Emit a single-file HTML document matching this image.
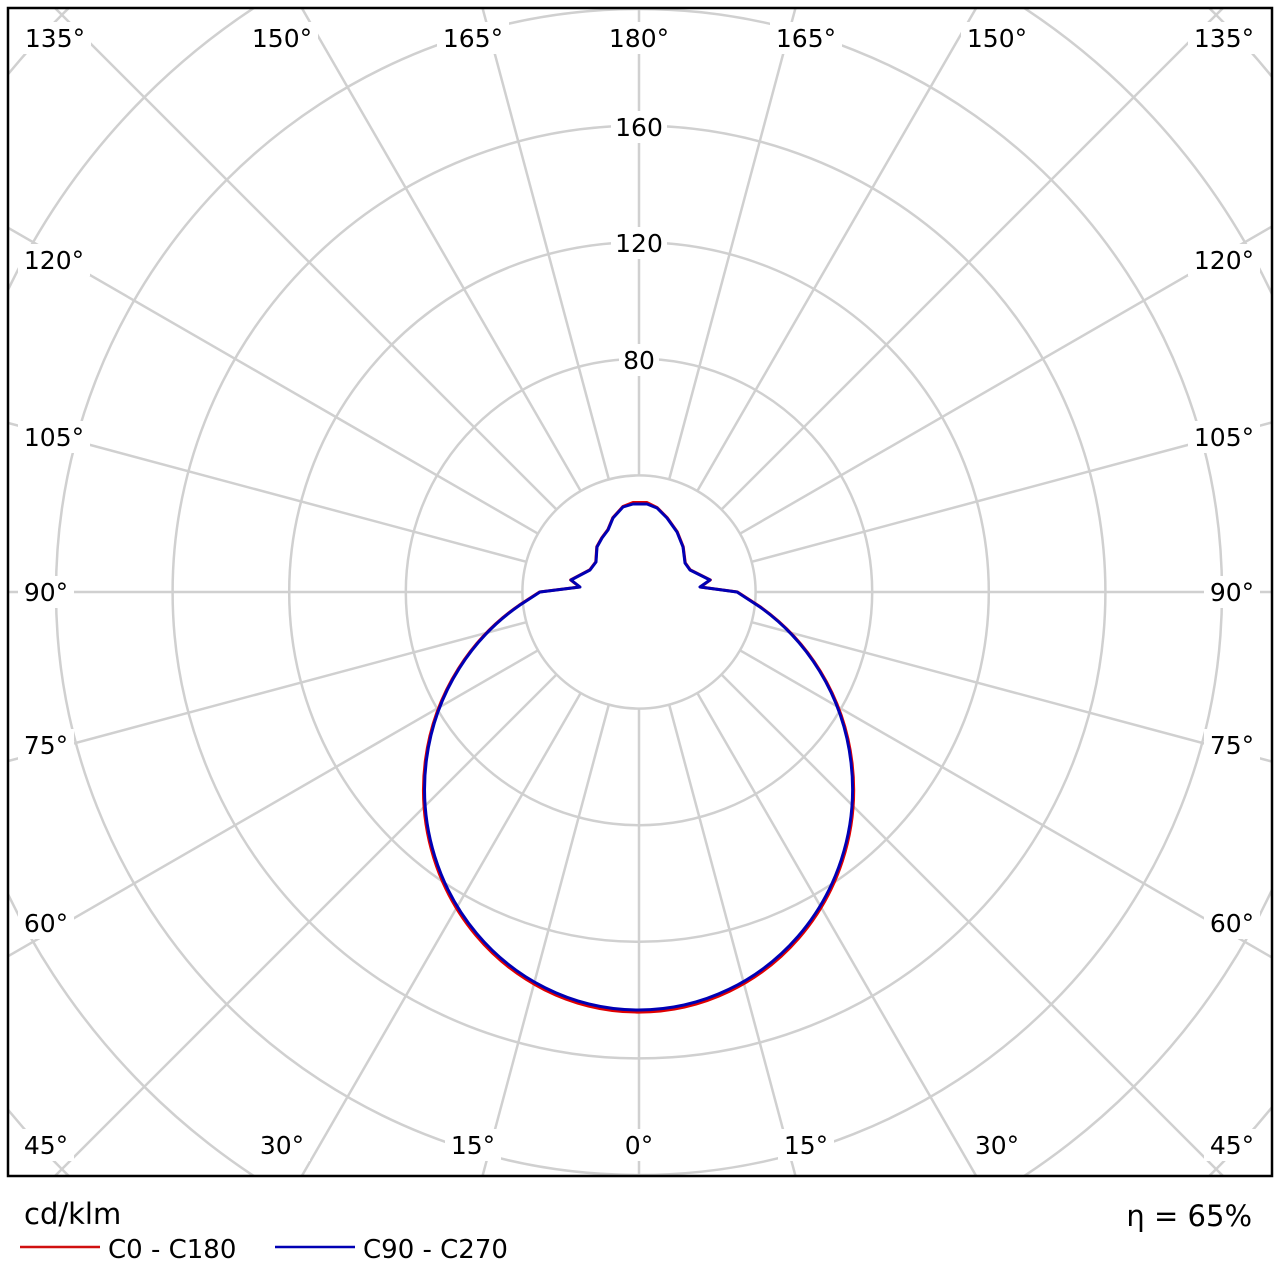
<!DOCTYPE html>
<html><head><style>
html,body{margin:0;padding:0;background:#fff;width:1280px;height:1280px;overflow:hidden}
svg{display:block;position:absolute;left:0;top:0}
text{font-family:"DejaVu Sans","Liberation Sans",sans-serif;fill:#000}
</style></head><body>
<svg id="s" width="1280" height="1280" xmlns="http://www.w3.org/2000/svg">
<defs><clipPath id="c"><rect x="9" y="9" width="1262" height="1166"/></clipPath></defs>
<g id="grid" clip-path="url(#c)" stroke="#d0d0d0" stroke-width="2.5" fill="none"></g>
<g id="labels"></g>
<g clip-path="url(#c)" fill="none" stroke-width="3" stroke-linejoin="round">
<path transform="translate(639 592) scale(1.005) translate(-639 -592)" stroke="#e00000" d="M520,605 L540,592 L580,587 L571,580 L590,570 L596,562 L597,547 L602,538 L608,530 L613,518 L623,507 L633,503 L647,503 L657,508 L667,518 L677,532 L683,547 L685,563 L690,570 L710,580 L700,587 L737,592 L760,607 A214 221 0 1 1 520,605 Z"/>
<path stroke="#0000b4" d="M520,605 L540,592 L580,587 L571,580 L590,570 L596,562 L597,547 L602,538 L608,530 L613,518 L623,507 L633,504 L647,504 L657,508 L667,518 L677,532 L683,547 L685,563 L690,570 L710,580 L700,587 L737,592 L760,607 A214 221 0 1 1 520,605 Z"/>
</g>
<rect x="8" y="8" width="1264" height="1168" fill="none" stroke="#000" stroke-width="2.5"/>
<text x="24" y="1224" font-size="29">cd/klm</text>
<line x1="20" y1="1247" x2="100" y2="1247" stroke="#d01010" stroke-width="2.5"/>
<text x="108" y="1258" font-size="26">C0 - C180</text>
<line x1="275" y1="1247" x2="355" y2="1247" stroke="#0000b4" stroke-width="2.5"/>
<text x="363" y="1258" font-size="26">C90 - C270</text>
<text x="1252" y="1226" font-size="29" text-anchor="end">η = 65%</text>
</svg>
<script>
const NS="http://www.w3.org/2000/svg",cx=639,cy=592,u=116.6/40;
const g=document.getElementById('grid'),L=document.getElementById('labels');
function el(p,t,a){const e=document.createElementNS(NS,t);for(const k in a)e.setAttribute(k,a[k]);p.appendChild(e);return e;}
for(let v=40;v<=400;v+=40)el(g,'circle',{cx:cx,cy:cy,r:v*u});
for(let a=0;a<360;a+=15){const r=a*Math.PI/180,s=Math.sin(r),c=Math.cos(r);
el(g,'line',{x1:cx+s*40*u,y1:cy+c*40*u,x2:cx+s*1200,y2:cy+c*1200});}
function lab(x,y,t){const w=t.length*16+8;el(L,'rect',{x:x-w/2,y:y-16,width:w,height:32,fill:'#fff'});
const e=el(L,'text',{x:x,y:y+9,'font-size':25,'text-anchor':'middle'});e.textContent=t;}
[[55,38,'135°'],[282,38,'150°'],[473,38,'165°'],[639,38,'180°'],[806,38,'165°'],[997,38,'150°'],[1224,38,'135°'],
[54,260,'120°'],[54,437,'105°'],[46,592,'90°'],[46,745,'75°'],[46,923,'60°'],[46,1145,'45°'],
[1224,260,'120°'],[1224,437,'105°'],[1232,592,'90°'],[1232,745,'75°'],[1232,923,'60°'],[1232,1145,'45°'],
[282,1145,'30°'],[473,1145,'15°'],[639,1145,'0°'],[806,1145,'15°'],[997,1145,'30°'],
[639,127,'160'],[639,243,'120'],[639,360,'80']].forEach(a=>lab(a[0],a[1],a[2]));
</script>
</body></html>
